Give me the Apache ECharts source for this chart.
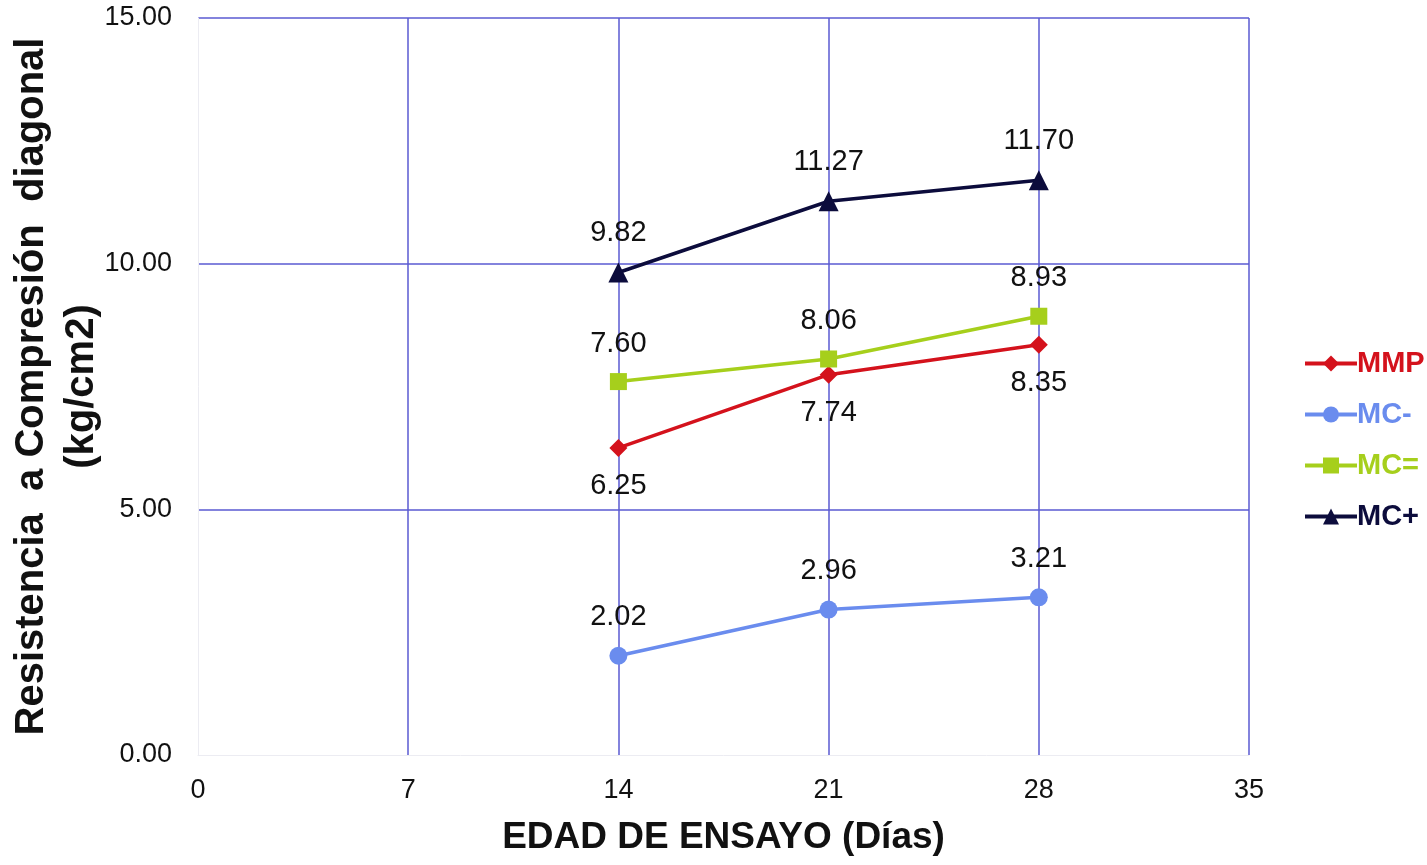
<!DOCTYPE html>
<html>
<head>
<meta charset="utf-8">
<script src="https://cdn.jsdelivr.net/npm/echarts@6/dist/echarts.min.js"></script>
<style>
  html, body { margin: 0; padding: 0; background: #fff; }
  #chart { width: 1427px; height: 865px; }
</style>
</head>
<body>
<div id="chart"></div>
<script>
// Ensayo de compresión diagonal: resistencia por edad de ensayo
const edades = [14, 21, 28];
const mmp = [6.25, 7.74, 8.35];
const mcMenos = [2.02, 2.96, 3.21];
const mcIgual = [7.60, 8.06, 8.93];
const mcMas = [9.82, 11.27, 11.70];
const seriesNames = ['MMP', 'MC-', 'MC=', 'MC+'];
const xTicks = [0, 7, 14, 21, 28, 35];
const yTicks = [0, 5, 10, 15];

const colors = ['#d4121c', '#6a8cee', '#a6cf1c', '#0c0c3c'];
const symbols = ['diamond', 'circle', 'rect', 'triangle'];
const symbolSizes = [18, 18, 17, 20];
const labelPos = ['bottom', 'top', 'top', 'top'];
const values = [mmp, mcMenos, mcIgual, mcMas];

const font = 'Liberation Sans, Arial, sans-serif';

const chart = echarts.init(document.getElementById('chart'));
chart.setOption({
  animation: false,
  backgroundColor: '#ffffff',
  grid: { left: 198, right: 178, top: 18, bottom: 110, outerBoundsMode: 'none', containLabel: false },
  legend: {
    orient: 'vertical',
    left: 1298,
    top: 344,
    itemGap: 22,
    itemWidth: 52,
    itemHeight: 20,
    lineStyle: { width: 4 },
    data: seriesNames.map((n, i) => ({
      name: n,
      textStyle: { color: colors[i] }
    })),
    textStyle: { fontFamily: font, fontSize: 29, fontWeight: 'bold', padding: [0, 0, 0, -5] }
  },
  xAxis: {
    type: 'value',
    min: xTicks[0],
    max: xTicks[xTicks.length - 1],
    interval: 7,
    name: 'EDAD DE ENSAYO (Días)',
    nameLocation: 'middle',
    nameGap: 64,
    nameMoveOverlap: false,
    nameTextStyle: { fontFamily: font, fontSize: 37, fontWeight: 'bold', color: '#111' },
    axisLine: { show: true, lineStyle: { color: '#ececf2', width: 1 } },
    axisTick: { show: false },
    axisLabel: { fontFamily: font, fontSize: 27, color: '#111', margin: 22 },
    splitLine: { show: true, showMinLine: false, lineStyle: { color: '#5a5ad2', width: 1.5 } }
  },
  yAxis: {
    type: 'value',
    min: yTicks[0],
    max: yTicks[yTicks.length - 1],
    interval: 5,
    name: 'Resistencia  a Compresión  diagonal\n(kg/cm2)',
    nameLocation: 'middle',
    nameRotate: 90,
    nameGap: 91,
    nameMoveOverlap: false,
    nameTextStyle: { fontFamily: font, fontSize: 40, fontWeight: 'bold', color: '#111', lineHeight: 50, align: 'center' },
    axisLine: { show: true, lineStyle: { color: '#ececf2', width: 1 } },
    axisTick: { show: false },
    axisLabel: { fontFamily: font, fontSize: 27, color: '#111', margin: 26, formatter: v => v.toFixed(2) },
    splitLine: { show: true, showMinLine: false, lineStyle: { color: '#5a5ad2', width: 1.5 } }
  },
  series: seriesNames.map((n, i) => ({
    name: n,
    type: 'line',
    data: edades.map((e, j) => [e, values[i][j]]),
    symbol: symbols[i],
    symbolSize: symbolSizes[i],
    itemStyle: { color: colors[i] },
    lineStyle: { color: colors[i], width: 3.5 },
    label: {
      show: true,
      position: labelPos[i],
      distance: 15,
      fontFamily: font,
      fontSize: 29,
      color: '#111',
      formatter: p => p.value[1].toFixed(2)
    }
  }))
});
</script>
</body>
</html>
